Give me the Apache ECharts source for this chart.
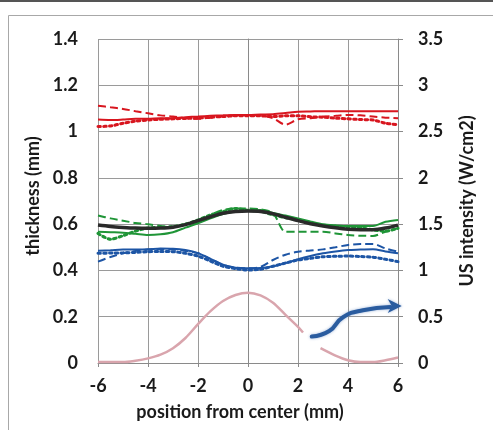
<!DOCTYPE html>
<html>
<head>
<meta charset="utf-8">
<script src="https://cdn.jsdelivr.net/npm/echarts@6/dist/echarts.min.js"></script>
<style>
  html, body { margin: 0; padding: 0; background: #ffffff; }
  #chart { width: 493px; height: 430px; }
</style>
</head>
<body>
<div id="chart"></div>
<script>
// Positions across the sample (mm), shared by the thickness profiles
const positions = [-6, -5.5, -5, -4.5, -4, -3.5, -3, -2.5, -2, -1.5, -1, -0.5, 0,
                   0.5, 1, 1.5, 2, 2.5, 3, 3.5, 4, 4.5, 5, 5.5, 6];

// Thickness profiles (mm) – top layer (red)
const redSolid  = [1.052, 1.050, 1.052, 1.055, 1.055, 1.058, 1.058, 1.062, 1.065, 1.068, 1.070, 1.072, 1.072,
                   1.074, 1.075, 1.080, 1.086, 1.087, 1.088, 1.088, 1.088, 1.088, 1.088, 1.088, 1.088];
const redDashed = [1.112, 1.105, 1.098, 1.088, 1.079, 1.070, 1.065, 1.058, 1.055, 1.060, 1.065, 1.070, 1.072,
                   1.070, 1.058, 1.030, 1.053, 1.058, 1.065, 1.068, 1.072, 1.070, 1.065, 1.060, 1.058];
const redDotted = [1.022, 1.024, 1.036, 1.045, 1.050, 1.053, 1.055, 1.057, 1.058, 1.062, 1.065, 1.068, 1.068,
                   1.068, 1.065, 1.068, 1.068, 1.064, 1.062, 1.058, 1.055, 1.052, 1.050, 1.036, 1.030];

// Middle layer (green) and its fitted profile (black)
const greenSolid  = [0.567, 0.565, 0.563, 0.558, 0.553, 0.556, 0.565, 0.585, 0.604, 0.625, 0.644, 0.655, 0.657,
                     0.661, 0.648, 0.637, 0.625, 0.612, 0.600, 0.595, 0.592, 0.592, 0.592, 0.610, 0.618];
const greenDashed = [0.637, 0.625, 0.615, 0.605, 0.600, 0.592, 0.589, 0.598, 0.610, 0.640, 0.661, 0.668, 0.668,
                     0.664, 0.648, 0.567, 0.567, 0.567, 0.567, 0.560, 0.553, 0.550, 0.549, 0.567, 0.582];
const greenDotted = [0.560, 0.535, 0.550, 0.570, 0.583, 0.586, 0.589, 0.600, 0.618, 0.640, 0.654, 0.668, 0.660,
                     0.655, 0.640, 0.628, 0.618, 0.605, 0.596, 0.590, 0.589, 0.585, 0.575, 0.570, 0.582];
const blackFit    = [0.596, 0.590, 0.586, 0.583, 0.582, 0.583, 0.587, 0.598, 0.615, 0.632, 0.647, 0.655, 0.657,
                     0.655, 0.645, 0.630, 0.615, 0.602, 0.592, 0.584, 0.578, 0.576, 0.576, 0.583, 0.596];

// Bottom layer (blue)
const blueSolid  = [0.485, 0.487, 0.490, 0.490, 0.491, 0.495, 0.494, 0.488, 0.475, 0.450, 0.425, 0.412, 0.409,
                    0.410, 0.418, 0.432, 0.448, 0.462, 0.474, 0.482, 0.488, 0.490, 0.492, 0.482, 0.474];
const blueDashed = [0.438, 0.458, 0.474, 0.484, 0.490, 0.492, 0.490, 0.484, 0.474, 0.450, 0.424, 0.412, 0.409,
                    0.415, 0.445, 0.468, 0.481, 0.486, 0.491, 0.500, 0.510, 0.514, 0.514, 0.495, 0.481];
const blueDotted = [0.474, 0.475, 0.476, 0.478, 0.481, 0.482, 0.481, 0.474, 0.462, 0.440, 0.418, 0.408, 0.402,
                    0.405, 0.418, 0.432, 0.445, 0.452, 0.459, 0.461, 0.462, 0.460, 0.457, 0.448, 0.438];

// Ultrasound intensity profile (W/cm2), right axis; null leaves the gap under the arrow
const intensityPos = [-6, -5.5, -5, -4.5, -4, -3.5, -3, -2.5, -2, -1.5, -1, -0.5, 0,
                      0.5, 1, 1.5, 2, 2.2, 2.5, 2.9, 3.5, 4, 4.5, 5, 5.5, 6];
const intensity    = [0.01, 0.01, 0.01, 0.025, 0.05, 0.09, 0.16, 0.27, 0.42, 0.56, 0.67, 0.735, 0.76,
                      0.73, 0.65, 0.52, 0.39, 0.33, null, 0.16, 0.08, 0.03, 0.01, 0.01, 0.03, 0.06];

// Axis ranges / ticks
const xTicks = { min: -6, max: 6, interval: 2 };
const thickTicks = { min: 0, max: 1.4, interval: 0.2 };
const intensTicks = { min: 0, max: 3.5, interval: 0.5 };

// Annotation arrow (x in mm, y in thickness units) pointing at the intensity axis
const arrowPath = [[2.55, 0.114], [3.25, 0.138], [3.8, 0.198], [4.6, 0.228], [5.7, 0.242]];
const arrowTip = [6.15, 0.246];

const FONT = 'Lato';
const RED = '#d8161f', GREEN = '#1f9537', BLUE = '#1d55a5', BLACK = '#2a2a2a', PINK = '#d9a5ad';

function pairs(xs, ys) { return xs.map((x, i) => [x, ys[i]]); }

function lineSeries(name, ys, color, kind, width, z) {
  const style = { color: color, width: width };
  if (kind === 'dashed') { style.type = [8, 4]; }
  if (kind === 'dotted') { style.type = [2.5, 3.2]; style.cap = 'round'; }
  return {
    name: name, type: 'line', xAxisIndex: 0, yAxisIndex: 0,
    data: pairs(positions, ys), smooth: 0.3, showSymbol: false, symbol: 'none',
    lineStyle: style, z: z || 2, silent: true, animation: false
  };
}

const chart = echarts.init(document.getElementById('chart'), null, { renderer: 'canvas' });

const axisText = { fontFamily: FONT, fontWeight: 'bold', fontSize: 18, color: '#1a1a1a' };
const gridLine = { show: true, lineStyle: { color: '#9a9a9a', width: 1 } };

chart.setOption({
  backgroundColor: '#ffffff',
  animation: false,
  grid: { left: 98, right: 95, top: 39, bottom: 67, containLabel: false },
  xAxis: {
    type: 'value', min: xTicks.min, max: xTicks.max, interval: xTicks.interval,
    name: 'position from center (mm)', nameLocation: 'middle', nameGap: 40,
    nameTextStyle: Object.assign({}, axisText, { padding: [0, 16, 0, 0] }),
    axisLine: { show: true, onZero: false, lineStyle: { color: '#8a8a8a', width: 1 } },
    axisTick: { show: true, inside: false, length: 4, lineStyle: { color: '#8a8a8a' } },
    axisLabel: Object.assign({ margin: 14 }, axisText),
    splitLine: gridLine
  },
  yAxis: [
    {
      type: 'value', position: 'left', min: thickTicks.min, max: thickTicks.max, interval: thickTicks.interval,
      name: 'thickness (mm)', nameLocation: 'middle', nameGap: 50, nameRotate: 90,
      nameTextStyle: Object.assign({}, axisText, { padding: [0, 0, 0, 10] }),
      axisLine: { show: true, lineStyle: { color: '#8a8a8a', width: 1 } },
      axisTick: { show: false },
      axisLabel: Object.assign({ margin: 20 }, axisText),
      splitLine: gridLine
    },
    {
      type: 'value', position: 'right', min: intensTicks.min, max: intensTicks.max, interval: intensTicks.interval,
      name: 'US intensity (W/cm2)', nameLocation: 'middle', nameGap: 60, nameRotate: 90,
      nameTextStyle: Object.assign({}, axisText),
      axisLine: { show: true, lineStyle: { color: '#8a8a8a', width: 1 } },
      axisTick: { show: true, inside: false, length: 5, lineStyle: { color: '#8a8a8a' } },
      axisLabel: Object.assign({ margin: 20 }, axisText),
      splitLine: { show: false }
    }
  ],
  series: [
    {
      name: 'US intensity', type: 'line', xAxisIndex: 0, yAxisIndex: 1,
      data: pairs(intensityPos, intensity), smooth: 0.3, connectNulls: false,
      showSymbol: false, symbol: 'none', lineStyle: { color: PINK, width: 2.5 }, z: 1, silent: true
    },
    lineSeries('red solid', redSolid, RED, 'solid', 2),
    lineSeries('red dashed', redDashed, RED, 'dashed', 2),
    lineSeries('red dotted', redDotted, RED, 'dotted', 3),
    lineSeries('green solid', greenSolid, GREEN, 'solid', 2),
    lineSeries('green dashed', greenDashed, GREEN, 'dashed', 2),
    lineSeries('green dotted', greenDotted, GREEN, 'dotted', 3),
    lineSeries('blue solid', blueSolid, BLUE, 'solid', 2),
    lineSeries('blue dashed', blueDashed, BLUE, 'dashed', 2),
    lineSeries('blue dotted', blueDotted, BLUE, 'dotted', 3),
    lineSeries('fit', blackFit, BLACK, 'solid', 3.5, 5)
  ]
});

// Frame of the figure panel and the annotation arrow
function toPx(p) { return chart.convertToPixel({ xAxisIndex: 0, yAxisIndex: 0 }, p); }
const shaftPts = arrowPath.map(toPx);
const tip = toPx(arrowTip);
const arrowColor = '#2a5c9f';

chart.setOption({
  graphic: [
    { type: 'rect', silent: true, z: -1,
      shape: { x: 8.5, y: 15.5, width: 520, height: 460 },
      style: { fill: 'none', stroke: '#a8a8a8', lineWidth: 1 } },
    { type: 'rect', silent: true,
      shape: { x: 0, y: 0, width: 493, height: 2 },
      style: { fill: '#555555' } },
    { type: 'polyline', silent: true, z: 10,
      shape: { points: shaftPts, smooth: 0.5 },
      style: { stroke: arrowColor, lineWidth: 4, fill: null, lineCap: 'round',
               shadowBlur: 3, shadowColor: 'rgba(40,90,170,0.45)' } },
    { type: 'polygon', silent: true, z: 10,
      shape: { points: [tip, [tip[0] - 14, tip[1] - 7], [tip[0] - 10, tip[1]], [tip[0] - 14, tip[1] + 7]] },
      style: { fill: arrowColor, shadowBlur: 3, shadowColor: 'rgba(40,90,170,0.45)' } }
  ]
});
</script>
</body>
</html>
